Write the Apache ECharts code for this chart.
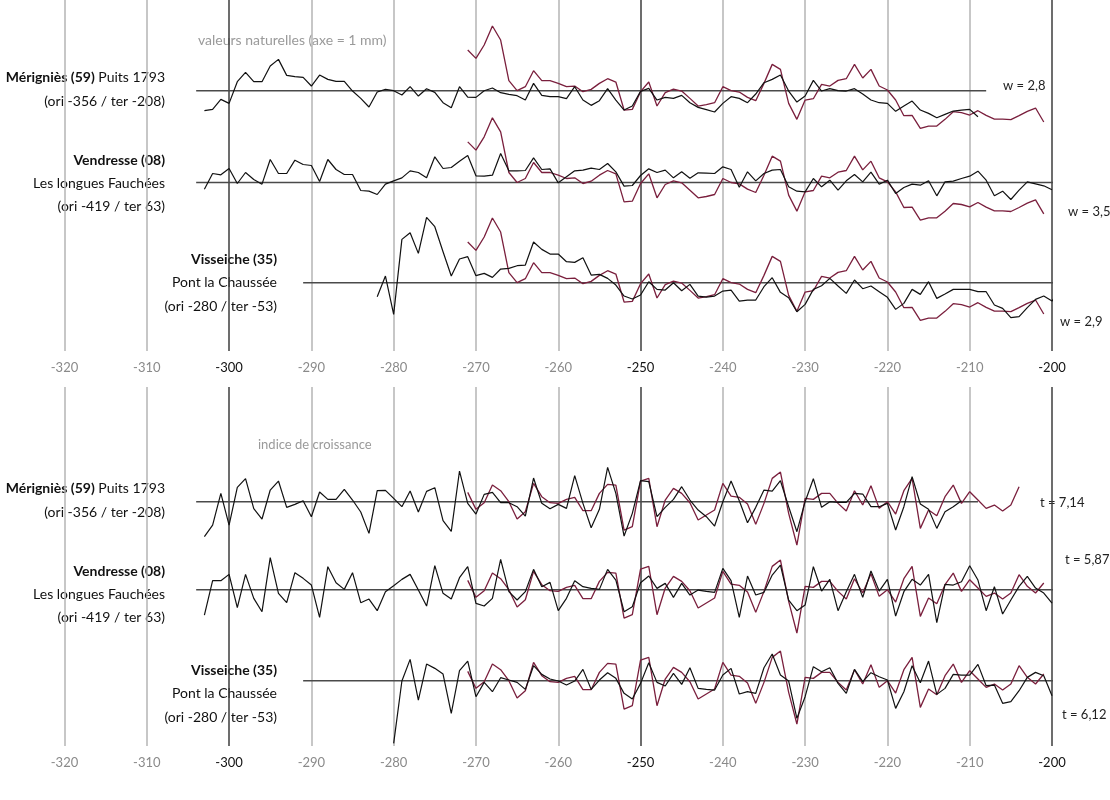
<!DOCTYPE html>
<html>
<head>
<meta charset="utf-8">
<title>Séries dendrochronologiques</title>
<script src="https://cdn.jsdelivr.net/npm/echarts@6/dist/echarts.min.js"></script>
</head>
<body style="margin:0;background:#fff;">
<div id="main" style="width:1110px;height:800px;"></div>
<script type="text/javascript">
// années de l'axe
var tickYears = [-320, -310, -300, -290, -280, -270, -260, -250, -240, -230, -220, -210, -200];
var strongYears = [-300, -250, -200];

// valeurs naturelles (écart à l'axe = 1 mm, unités arbitraires)
var natRefStart = -271;
var natRef = [122, 97, 137, 194, 152, 30, 0, 12, 60, 30, 30, 22, 12, 14, -3, 4, 22, 36,
  26, -58, -56, -3, 26, -46, -6, 5, -1, -23, -46, -42, -36,
  12, 0, -4, -20, -30, 22, 79, 64, -38, -86, -28, -24, 19, 14, 31, 36, 79, 38, 64, 14, 2, -28, -75, -74, -113, -106, -106, -86, -63,
  -66, -73, -60, -74, -85, -85, -87, -75, -62, -52, -94];

var natMerigStart = -303;
var natMerig = [-60, -56, -26, -38, 27, 55, 27, 27, 74, 94, 46, 42, 40, 14, 47, 34, 28, 28, -1, -23,
  -49, -4, 4, 0, -13, 12, -16, 6, -5, -36, -51, 12, -19, -20, 0, 8, -6, -11, -15, -28,
  22, -14, -18, -18, -24, 12, -28, -44, -30, 6,
  -28, -58, -46, -2, 7, -28, -20, -23, -14, -36, -50, -57, -64,
  -38, -18, -23, -36, -10, 24, 34, 47, -1, -34, -16, 31, -1, 6, 0, -1, 6, -10, -28, -36,
  -38, -62, -46, -31, -58, -68, -81, -71, -61, -58, -56, -78];

var natVendrStart = -303;
var natVendr = [-20, 27, 23, 42, -3, 30, 9, -5, 69, 27, 27, 67, 54, 51, 3, 69, 39, 24, 24, -24,
  -26, -36, -5, 5, 14, 35, 30, 14, 77, 42, 45, 64, 81, 20, 19, 22, 87, 35, 35, 36,
  74, 39, 41, -1, 17, 35, 37, 43, 39, 57,
  32, -11, -9, 21, 41, 30, 37, 14, 32, 13, 29, 28, 27,
  47, 39, -14, 32, 5, 27, 37, 39, -13, -26, -28, 12, -13, 7, -23, 5, 24, 2, 31, -5,
  7, -33, -15, -5, -8, 5, -40, 2, 4, 12, 19, 34, 7, -40, -26, -51, -23, 2, -4, -10, -22];

var natVisseStart = -282;
var natVisse = [-42, 20, -95, 130, 150, 88, 196, 168, 93, 20, 71, 78, 21, 28, 16, 41, 43, 51, 53, 122,
  100, 86, 86, 63, 61, 75, 23, 25, 13, -7, -40,
  -49, -37, 3, -20, -22, 0, -24, -5, -40, -43, -40,
  -25, -22, -55, -52, -52, -12, 15, -29, -45, -87, -65, -20, -9, 13, -10, -32, 8, -18, -10, -27,
  -44, -80, -62, -20, -35, 3, -47, -34, -20, -20, -20, -27, -27, -67, -77, -105, -102, -75, -50, -40, -55, -20, -50];

// indice de croissance
var idxRefStart = -271;
var idxRef = [28, -23, -3, 50, 33, 0, -52, -30, 55, 15, -3, -5, 7, 13, -27, -27, 25, 52,
  50, -85, -75, 62, 70, -75, 5, 40, 25, -3, -55, -40, -25,
  55, 17, 13, -7, -68, -5, 70, 89, -35, -130, 10, 7, 25, 25, -5, -28, 33, -10, 48, -20,
  0, -37, 33, 70, -80, -25, -42, 15, 50, -5, 30, 5, -20, -10, -28, -10, 45, 10, -10, 20];
var idxRefEnd = [-204, -201, -201];

var idxMerigStart = -303;
var idxMerig = [-105, -70, 25, -70, 43, 69, -21, -52, 35, 62, -17, -8, 3, -45, 29, 7, 7, 37, 5, -31,
  -95, 33, 34, 10, -15, 32, -31, 31, 42, -57, -89, 92, -5, -37, 22, 28, -3, -3, -15, -43,
  71, -5, -21, -8, -20, 78, -5, -78, -23, 103,
  25, -103, -35, 63, 60, -45, -17, 7, 45, 5, -25, -45, -73,
  0, 62, 3, -63, -17, 35, 32, 63, -15, -90, 0, 69, -17, 0, -2, -2, 25, 23, -15, -15,
  -5, -85, -15, 75, -7, -23, -80, -30, -15, 3];

var idxVendrStart = -303;
var idxVendr = [-76, 27, 27, 46, -54, 46, -26, -66, 96, -11, -39, 51, 34, 14, -83, 69, 21, 1, 51, -39,
  -28, -63, -6, 12, 31, 46, -1, -49, 72, -11, -28, 36, 69, -41, -49, -26, 91, -6, -31, -6,
  61, 9, 22, -63, -26, 27, 9, 4, 1, 61,
  29, -66, -51, 21, 41, 4, 19, -23, 19, -16, -1, -5, -8,
  64, 27, -83, 41, -16, -8, 44, 74, -31, -63, -46, 69, -4, 31, -63, -6, 46, -23, 56, -4,
  31, -79, -6, 31, 14, 46, -99, 16, 14, 24, 72, 29, -63, 9, -73, -31, 10, 40, 5, -10, -40];

var idxVisseStart = -280;
var idxVisse = [-188, -1, 64, -58, 50, 37, 20, -98, 30, 59, -48, -5, -33, 9, 2, -5, -26, 45, 19, 5,
  -1, -13, -1, 34, -26, 2, 24, 7,
  -38, -55, -8, 54, -5, -16, 22, -11, 39, -23, -26, -28,
  17, 37, -40, -33, -38, 39, 80, 17, -1, -113, -48, 42, 27, 39, -8, -38, 34, -3, 24, 12,
  2, -83, -33, 45, -6, 59, -41, -23, 19, 17, 17, 49, -15, -13, -68, -63, -30, 10, 25, 15, -45];

// étendue des axes horizontaux [début, fin]
var natSpans = [[-304, -208], [-304, -194], [-291, -196]];
var idxSpans = [[-304, -209], [-304, -193], [-291, -193]];

var natLabels = [
  ['{b|Mérigniès (59)} Puits 1793', '(ori -356 / ter -208)'],
  ['{b|Vendresse (08)}', 'Les longues Fauchées', '(ori -419 / ter 63)'],
  ['{b|Visseiche (35)}', 'Pont la Chaussée', '(ori -280 / ter -53)']
];
var natStats = ['w = 2,8', 'w = 3,5', 'w = 2,9'];
var idxStats = ['t = 7,14', 't = 5,87', 't = 6,12'];

// mise en page (px)
var LEFT = 64.5, RIGHT = 58;
var rowBases = [90.7, 182.5, 282.7, 501.7, 589.7, 680.7];
var RED = '#7a1f3d';
var FONT = 'Lato, "Open Sans", sans-serif';

function pairs(start, vals) {
  return vals.map(function (v, i) { return [start + i, v]; });
}

var chart = echarts.init(document.getElementById('main'));

var grids = [
  {left: LEFT, right: RIGHT, top: 0, height: 351},
  {left: LEFT, right: RIGHT, top: 387, height: 359}
];
var xAxes = [];
var yAxes = [];
for (var p = 0; p < 2; p++) {
  xAxes.push({
    type: 'value', gridIndex: p, min: -320, max: -200, interval: 10,
    axisLine: {show: false}, axisTick: {show: false},
    axisLabel: {
      margin: 10,
      formatter: function (v) {
        return (strongYears.indexOf(v) >= 0 ? '{s|' : '{n|') + v + '}';
      },
      rich: {
        s: {color: '#111', fontSize: 13, fontFamily: FONT},
        n: {color: '#8a8a8a', fontSize: 13, fontFamily: FONT}
      }
    },
    splitLine: {show: true, lineStyle: {
      width: 1.5,
      color: tickYears.map(function (y) { return strongYears.indexOf(y) >= 0 ? '#3c3c3c' : '#b5b5b5'; })
    }}
  });
  yAxes.push({type: 'value', gridIndex: p, min: 0, max: 1, show: false});
}
rowBases.forEach(function (b, i) {
  grids.push({left: LEFT, right: RIGHT, top: b - 70, height: 140});
  xAxes.push({type: 'value', gridIndex: i + 2, min: -320, max: -200, show: false});
  yAxes.push({type: 'value', gridIndex: i + 2, min: -210, max: 210, show: false});
});

var series = [];
function addLine(axis, data, color, width, z) {
  series.push({
    type: 'line', xAxisIndex: axis, yAxisIndex: axis, data: data,
    symbol: 'none', clip: false, silent: true, animation: false, z: z,
    lineStyle: {color: color, width: width}
  });
}

var natBlack = [[natMerigStart, natMerig], [natVendrStart, natVendr], [natVisseStart, natVisse]];
var idxBlack = [[idxMerigStart, idxMerig], [idxVendrStart, idxVendr], [idxVisseStart, idxVisse]];
for (var r = 0; r < 3; r++) {
  // valeurs naturelles
  addLine(r + 2, [[natSpans[r][0], 0], [natSpans[r][1], 0]], '#4a4a4a', 1.5, 2);
  addLine(r + 2, pairs(natRefStart, natRef), RED, 1.3, 3);
  addLine(r + 2, pairs(natBlack[r][0], natBlack[r][1]), '#111', 1.2, 4);
  // indice de croissance
  addLine(r + 5, [[idxSpans[r][0], 0], [idxSpans[r][1], 0]], '#4a4a4a', 1.5, 2);
  addLine(r + 5, pairs(idxRefStart, idxRef.slice(0, idxRefEnd[r] - idxRefStart + 1)), RED, 1.3, 3);
  addLine(r + 5, pairs(idxBlack[r][0], idxBlack[r][1]), '#111', 1.2, 4);
}

// textes
var graphics = [];
function txt(x, y, text, align, color, size) {
  graphics.push({
    type: 'text', x: x, y: y, silent: true,
    style: {
      text: text, align: align, verticalAlign: 'middle',
      fill: color || '#111', fontSize: size || 14, fontFamily: FONT,
      rich: {b: {fontWeight: 'bold', fill: '#111', fontSize: size || 14, fontFamily: FONT}}
    }
  });
}
var labelRight = [165, 165, 277];
var labelTops = [[77, 101], [160, 183, 206], [259, 282, 306]];
for (var k = 0; k < 3; k++) {
  natLabels[k].forEach(function (line, j) {
    txt(labelRight[k], labelTops[k][j], line, 'right');
    txt(labelRight[k], labelTops[k][j] + 411, line, 'right');
  });
}
txt(198, 40, 'valeurs naturelles (axe = 1 mm)', 'left', '#9a9a9a', 14);
txt(258, 445, 'indice de croissance', 'left', '#9a9a9a', 13);
var natStatPos = [[1003, 86], [1068, 212], [1060, 322]];
var idxStatPos = [[1040, 503], [1065, 560], [1062, 715]];
for (var m = 0; m < 3; m++) {
  txt(natStatPos[m][0], natStatPos[m][1], natStats[m], 'left', '#222', 13);
  txt(idxStatPos[m][0], idxStatPos[m][1], idxStats[m], 'left', '#222', 13);
}

chart.setOption({
  animation: false,
  backgroundColor: '#fff',
  grid: grids,
  xAxis: xAxes,
  yAxis: yAxes,
  series: series,
  graphic: graphics
});
</script>
</body>
</html>
